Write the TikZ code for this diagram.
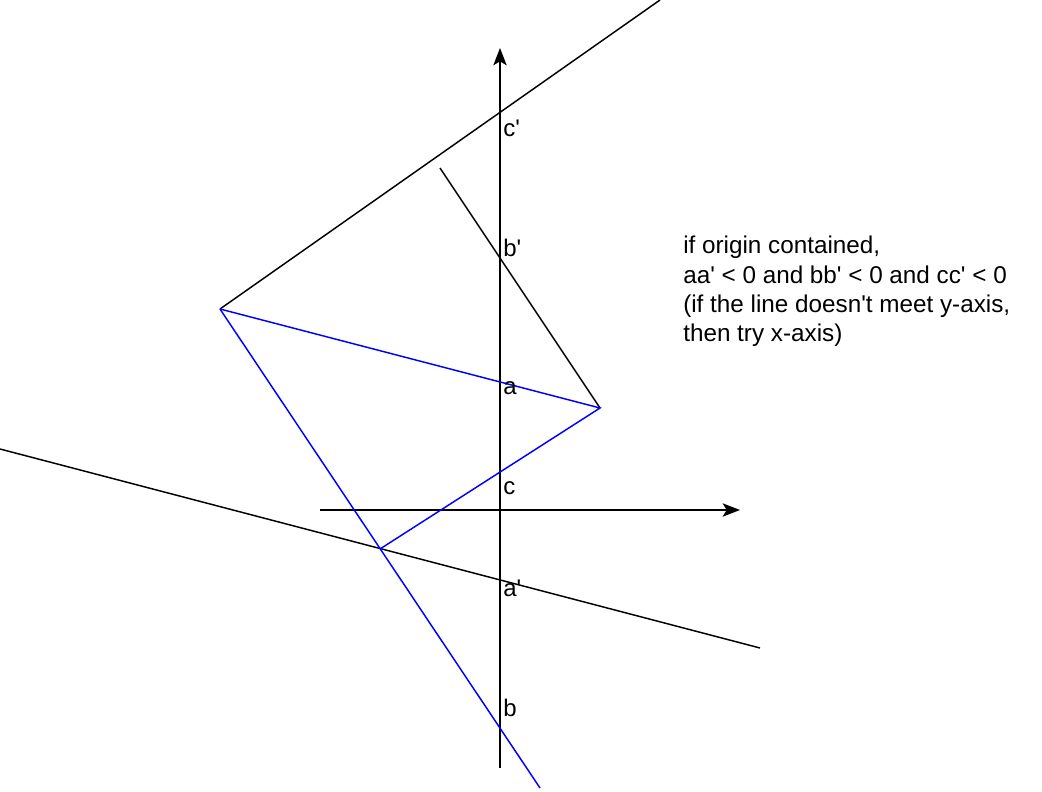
\documentclass[tikz,border=0pt]{standalone}
\usepackage{fontspec}
\setmainfont{Liberation Sans}
\usetikzlibrary{arrows.meta}

\begin{document}
\begin{tikzpicture}[x=0.75pt,y=-0.75pt,>={Stealth[length=13pt,width=10pt,inset=3pt]},
  axis/.style={line width=1.2pt,->},
  ln/.style={line width=1.1pt,black},
  tri/.style={line width=1.1pt,blue},
  lab/.style={font=\fontsize{18}{22}\selectfont,anchor=west,inner sep=0pt},
  note/.style={lab,font=\fontsize{18.2}{22}\selectfont,anchor=north west,align=left}]
\useasboundingbox (0,0) rectangle (1042,792);
% triangle corners and line ends
\coordinate (A) at (220,309);
\coordinate (B) at (600,408);
\coordinate (C) at (380,549);
\coordinate (ybot) at (500,768);
\coordinate (ytop) at (500,48);
\coordinate (xleft) at (320,510);
\coordinate (xright) at (740,510);
\coordinate (endcp) at (660,0);
\coordinate (endbp) at (440,168);
\coordinate (endapl) at (0,449);
\coordinate (endapr) at (760,648);
\coordinate (endb) at (540,788);
% axes
\draw[axis] (ybot) -- (ytop);
\draw[axis] (xleft) -- (xright);
% extended sides
\draw[ln] (A) -- (endcp);
\draw[ln] (endbp) -- (B);
\draw[ln] (endapl) -- (endapr);
\draw[tri] (A) -- (B) -- (C);
\draw[tri] (A) -- (endb);
% intercepts on y-axis
\foreach \n/\txt/\y in {cp/c\textquotesingle/128,bp/b\textquotesingle/248,a/a/388,c/c/488,ap/a\textquotesingle/588,b/b/708}
  \node[lab] (\n) at (503,\y) {\txt};
\node[note] (cond) at (683,236) {if origin contained,\\
  aa\textquotesingle{} {<} 0 and bb\textquotesingle{} {<} 0 and cc\textquotesingle{} {<} 0\\
  (if the line doesn\textquotesingle t meet y-axis,\\
  then try x-axis)};
\end{tikzpicture}
\end{document}
